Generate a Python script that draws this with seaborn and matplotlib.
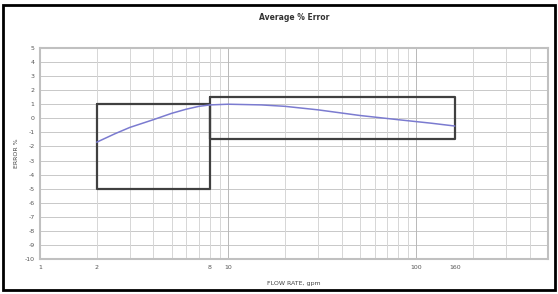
import matplotlib
matplotlib.use("Agg")
import matplotlib.pyplot as plt
import seaborn as sns
import pandas as pd
from matplotlib.patches import Rectangle

# curve
flow = [2, 2.5, 3, 4, 5, 6, 7, 8, 10, 15, 20, 30, 50, 80, 120, 160]
error = [-1.7, -1.1, -0.65, -0.1, 0.35, 0.65, 0.85, 0.95, 1.0, 0.95, 0.85, 0.6, 0.2, -0.1, -0.35, -0.55]

# accuracy envelopes (low-flow and normal range)
low_x = [2, 8]
low_y = [-5, 1]
high_x = [8, 160]
high_y = [-1.5, 1.5]

x_ticks = [1, 2, 8, 10, 100, 160]
y_ticks = list(range(5, -11, -1))

sns.set_style("white")
plt.rcParams['font.family'] = ['DejaVu Sans']

fig = plt.figure(figsize=(5.58, 2.94), dpi=100)
ax = fig.add_axes([0.0717, 0.119, 0.9103, 0.718])

df = pd.DataFrame({"flow": flow, "error": error})
sns.lineplot(data=df, x="flow", y="error", ax=ax, color="#7b7bd0", linewidth=1.1, zorder=4)

for bx, by in [(low_x, low_y), (high_x, high_y)]:
    xs = [bx[0], bx[1], bx[1], bx[0], bx[0]]
    ys = [by[1], by[1], by[0], by[0], by[1]]
    ax.plot(xs, ys, color="#404040", linewidth=1.6, zorder=3)

ax.set_xscale("log")
ax.set_xlim(1, 500)
ax.set_ylim(-10, 5)
ax.set_xticks(x_ticks)
ax.set_xticklabels([str(t) for t in x_ticks], fontsize=4.5)
ax.set_xticks([], minor=True)
ax.set_yticks(y_ticks)
ax.set_yticklabels([str(t) for t in y_ticks], fontsize=4.5)

# grid: every integer horizontally, every log step vertically
for v in y_ticks:
    ax.axhline(v, color="#c8c8c8", linewidth=0.7, zorder=1)
for dec in [1, 10, 100]:
    for m in range(1, 10):
        g = dec * m
        if g <= 500:
            ax.axvline(g, color="#b8b8b8" if m == 1 else "#d6d6d6", linewidth=0.7, zorder=1)

for s in ax.spines.values():
    s.set_color("#c0c0c0")
    s.set_linewidth(1.5)
ax.tick_params(axis="both", length=2, pad=2, colors="#555555")

ax.set_xlabel("FLOW RATE, gpm", fontsize=4.5, color="#444444", labelpad=8)
ax.set_ylabel("ERROR %", fontsize=4.5, color="#444444", labelpad=4)
ax.set_title("Average % Error", fontsize=5.5, fontweight="bold", color="#333333", pad=20)

fig.patches.append(Rectangle((0.006, 0.012), 0.988, 0.97, transform=fig.transFigure,
                             fill=False, edgecolor="black", linewidth=2))

fig.savefig("out.png", dpi=100)
